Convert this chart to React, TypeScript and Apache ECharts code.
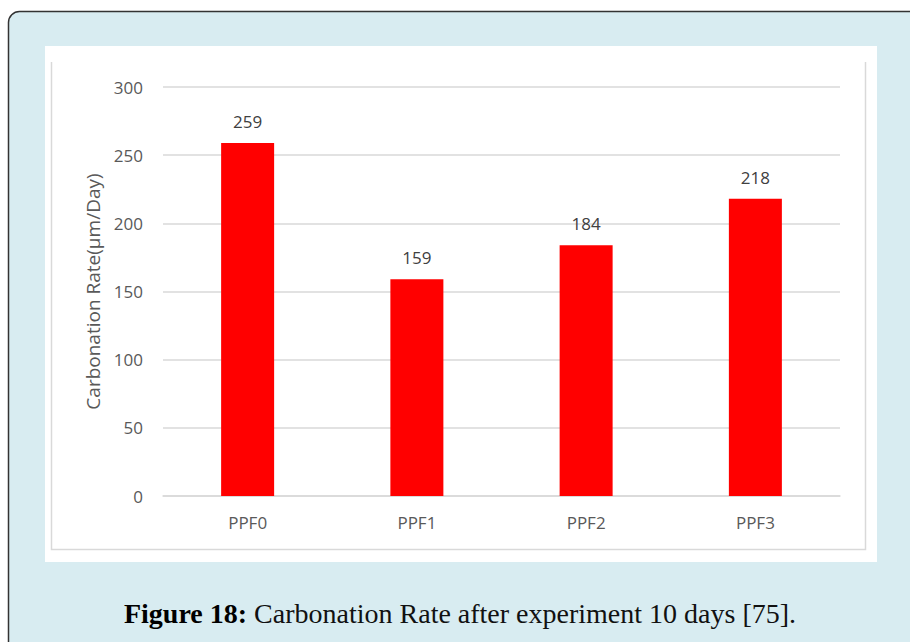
import React, { useEffect, useRef } from "react";
import * as echarts from "echarts";

const categories = ["PPF0", "PPF1", "PPF2", "PPF3"];
const values = [259, 159, 184, 218];
const yTicks = [0, 50, 100, 150, 200, 250, 300];
const yAxisName = "Carbonation Rate(μm/Day)";
const captionBold = "Figure 18:";
const captionRest = " Carbonation Rate after experiment 10 days [75].";

export default function App() {
  const ref = useRef<HTMLDivElement>(null);
  useEffect(() => {
    if (!ref.current) return;
    const chart = echarts.init(ref.current, undefined, { renderer: "svg" });
    const font = "'Open Sans', sans-serif";
    chart.setOption({
      animation: false,
      graphic: [
        {
          type: "rect",
          z: -10,
          silent: true,
          shape: { x: 8.5, y: 11.5, width: 930, height: 660, r: 11 },
          style: { fill: "#d8ecf1", stroke: "#333333", lineWidth: 1.5 },
        },
        {
          type: "rect",
          z: -9,
          silent: true,
          shape: { x: 45, y: 46, width: 832, height: 516 },
          style: { fill: "#ffffff" },
        },
        {
          type: "polyline",
          z: -8,
          silent: true,
          shape: { points: [[51.5, 62], [51.5, 549.5], [865.5, 549.5], [865.5, 62]] },
          style: { fill: "none", stroke: "#d9d9d9", lineWidth: 1.5 },
        },
        {
          type: "text",
          silent: true,
          x: 460,
          y: 613,
          style: {
            text: "{b|" + captionBold + "}{r|" + captionRest + "}",
            align: "center",
            verticalAlign: "middle",
            rich: {
              b: { fontFamily: "'Liberation Serif', serif", fontSize: 28, fontWeight: "bold", fill: "#000" },
              r: { fontFamily: "'Liberation Serif', serif", fontSize: 28, fill: "#111" },
            },
          },
        },
      ],
      grid: { left: 163, right: 70, top: 87, bottom: 146, containLabel: false },
      xAxis: {
        type: "category",
        data: categories,
        axisLine: { show: true, lineStyle: { color: "#d9d9d9", width: 1.5 } },
        axisTick: { show: false },
        axisLabel: { color: "#595959", fontFamily: font, fontSize: 17, margin: 18 },
      },
      yAxis: {
        type: "value",
        min: yTicks[0],
        max: yTicks[yTicks.length - 1],
        interval: 50,
        name: yAxisName,
        nameLocation: "middle",
        nameGap: 58,
        nameTextStyle: { color: "#595959", fontFamily: font, fontSize: 19 },
        axisLine: { show: false },
        axisTick: { show: false },
        axisLabel: { color: "#595959", fontFamily: font, fontSize: 17, margin: 20 },
        splitLine: { lineStyle: { color: "#d9d9d9", width: 1.5 } },
      },
      series: [
        {
          type: "bar",
          data: values,
          barWidth: 53,
          itemStyle: { color: "#ff0000" },
          label: {
            show: true,
            position: "top",
            distance: 13,
            color: "#404040",
            fontFamily: font,
            fontSize: 17,
          },
        },
      ],
    });
    return () => chart.dispose();
  }, []);
  return (
    <div
      ref={ref}
      style={{ position: "absolute", left: 0, top: 0, width: 910, height: 642 }}
    />
  );
}
